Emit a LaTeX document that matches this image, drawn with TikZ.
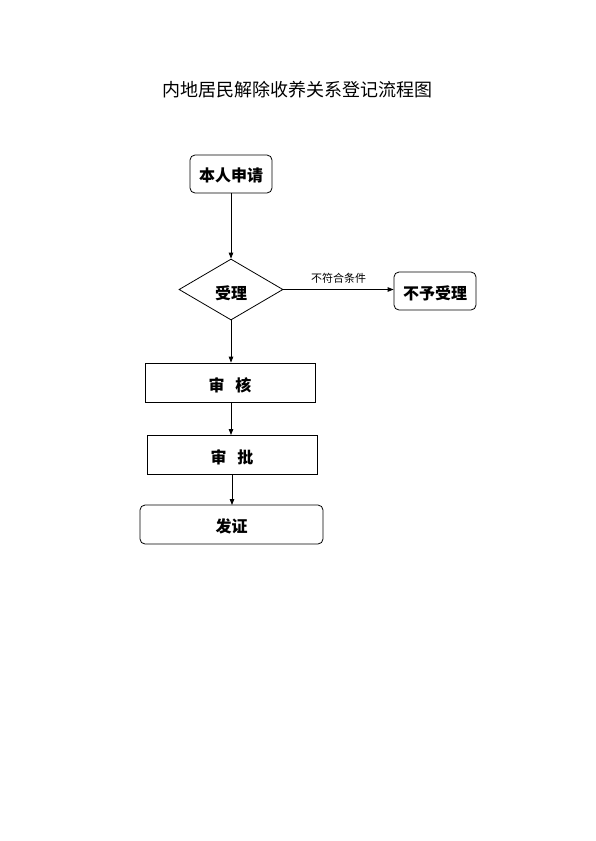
\documentclass[tikz,border=0pt]{standalone}
\usepackage{fontspec}
\newfontfamily\cjk{Noto Sans CJK SC}
\usetikzlibrary{shapes.geometric,arrows.meta}
\newcommand{\lowr}[2]{\raisebox{-#1}[\height][\depth]{#2}}
\begin{document}
\begin{tikzpicture}[x=1pt,y=-1pt,
  box/.style={draw,line width=0.8pt,inner sep=0pt,font=\cjk\bfseries\fontsize{16}{16}\selectfont},
  rbox/.style={box,rounded corners=5pt},
  conn/.style={draw,line width=0.8pt,-{Triangle[length=6pt,width=4.5pt]}}]
\useasboundingbox (0,0) rectangle (595,841);
\node[font=\cjk\fontsize{18}{18}\selectfont] (title) at (297.5,90) {内地居民解除收养关系登记流程图};
\node[rbox,minimum width=82pt,minimum height=38pt] (apply) at (231,174) {\lowr{1.5pt}{本人申请}};
\node[box,diamond,aspect=1.7,minimum width=104pt,minimum height=61pt] (accept) at (231,289.5) {\lowr{3.5pt}{受理}};
\node[rbox,minimum width=82pt,minimum height=38pt] (reject) at (435,291) {\lowr{2pt}{不予受理}};
\node[box,minimum width=170pt,minimum height=39pt] (review) at (230,382.5) {\lowr{2.5pt}{审\hspace{11pt}核}};
\node[box,minimum width=170pt,minimum height=39pt] (approve) at (232,454.5) {\lowr{2.5pt}{审\hspace{11pt}批}};
\node[rbox,minimum width=183pt,minimum height=39pt] (issue) at (231.5,524.5) {\lowr{1.5pt}{发证}};
\draw[conn] (apply) -- (accept);
\draw[conn] (accept.east) -- node[above,font=\cjk\fontsize{11}{11}\selectfont,yshift=2pt] (cond) {不符合条件} (reject.west |- accept.east);
\draw[conn] (accept.south) -- (accept.south |- review.north);
\draw[conn] (231,402) -- (231,435);
\draw[conn] (232,474) -- (232,505);
\end{tikzpicture}
\end{document}
